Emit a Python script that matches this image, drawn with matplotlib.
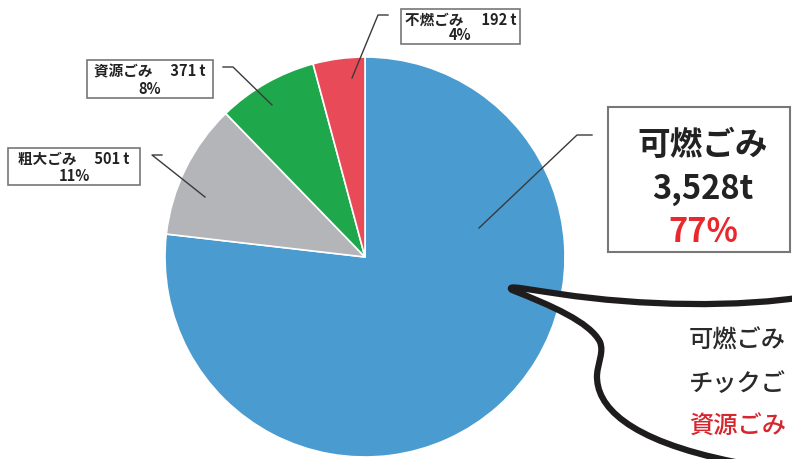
import numpy as np
import matplotlib
matplotlib.use("Agg")
import matplotlib.pyplot as plt
from matplotlib.path import Path
from matplotlib.patches import PathPatch, Rectangle

plt.rcParams['font.family'] = ['Noto Sans CJK JP', 'DejaVu Sans']

# data
categories = ["可燃ごみ", "粗大ごみ", "資源ごみ", "不燃ごみ"]
amounts = [3528, 501, 371, 192]
colors = ["#4A9BD0", "#B3B5B8", "#1FA84B", "#E84B57"]
bubble_lines = ["可燃ごみ", "チックご", "資源ごみ"]

total = sum(amounts)
pcts = [round(a / total * 100) for a in amounts]

W, H = 792, 459
fig = plt.figure(figsize=(W / 100, H / 100), dpi=100)

# pie axes: centre (365, 257) px, radius 200 px
cx, cy, r = 365, 257, 200
ax = fig.add_axes([(cx - r) / W, (H - cy - r) / H, 2 * r / W, 2 * r / H])
ax.pie(amounts, colors=colors, startangle=90, counterclock=False,
       wedgeprops=dict(edgecolor="white", linewidth=1.2))
ax.set_xlim(-1, 1)
ax.set_ylim(-1, 1)
ax.axis("off")

# overlay in pixel coords for labels / bubble
ov = fig.add_axes([0, 0, 1, 1])
ov.set_xlim(0, W)
ov.set_ylim(H, 0)
ov.axis("off")
ov.patch.set_alpha(0)

line_col = "#3a3a3a"
box_col = "#777777"

# small labels: (box x0, y0, x1, y1), leader (start-h, knee, end)
small = {
    1: ((8, 148, 140, 185), [(162, 155), (152, 155), (205, 197)]),
    2: ((87, 60, 213, 98), [(223, 67), (233, 67), (272, 105)]),
    3: ((401, 9, 520, 44), [(388, 15), (378, 15), (352, 78)]),
}
for i, (box, leader) in small.items():
    x0, y0, x1, y1 = box
    ov.add_patch(Rectangle((x0, y0), x1 - x0, y1 - y0, fill=True,
                           facecolor="white", edgecolor=box_col, lw=1.2))
    xs, ys = zip(*leader)
    ov.plot(xs, ys, color=line_col, lw=1)
    xm = (x0 + x1) / 2
    ov.text(xm, y0 + (y1 - y0) * 0.3, f"{categories[i]}　 {amounts[i]} t",
            ha="center", va="center", fontsize=10.5, fontweight="bold", color="#222222")
    ov.text(xm, y0 + (y1 - y0) * 0.75, f"{pcts[i]}%",
            ha="center", va="center", fontsize=10.5, fontweight="bold", color="#222222")

# big label for 可燃ごみ
ov.add_patch(Rectangle((608, 107), 182, 145, facecolor="white",
                       edgecolor=box_col, lw=1.5))
ov.plot([592, 577, 479], [135, 135, 228], color=line_col, lw=1)
ov.text(703, 145, categories[0], ha="center", va="center",
        fontsize=23.5, fontweight="bold", color="#222222")
ov.text(703, 189, f"{amounts[0]:,}t", ha="center", va="center",
        fontsize=23.5, fontweight="bold", color="#222222")
ov.text(703, 232, f"{pcts[0]}%", ha="center", va="center",
        fontsize=23.5, fontweight="bold", color="#E8282D")

# speech bubble
verts = [
    (810, 296),
    (740, 308), (640, 306), (560, 294),
    (530, 290), (505, 284), (512, 290),
    (550, 305), (590, 322), (600, 342),
    (604, 352), (598, 362), (597, 375),
    (596, 405), (625, 440), (735, 462),
    (810, 480),
    (810, 296),
]
codes = [Path.MOVETO,
         Path.CURVE4, Path.CURVE4, Path.CURVE4,
         Path.CURVE4, Path.CURVE4, Path.CURVE4,
         Path.CURVE4, Path.CURVE4, Path.CURVE4,
         Path.CURVE4, Path.CURVE4, Path.CURVE4,
         Path.CURVE4, Path.CURVE4, Path.CURVE4,
         Path.LINETO, Path.CLOSEPOLY]
ov.add_patch(PathPatch(Path(verts, codes), facecolor="white",
                       edgecolor="#1e1c1d", lw=4.5, joinstyle="round"))

for k, (txt, y) in enumerate(zip(bubble_lines, [341, 384, 427])):
    ov.text(689, y, txt, ha="left", va="center", fontsize=17.5,
            fontweight="medium", color="#D7262E" if k == 2 else "#2a2a2a")

fig.savefig("out.png", dpi=100)
